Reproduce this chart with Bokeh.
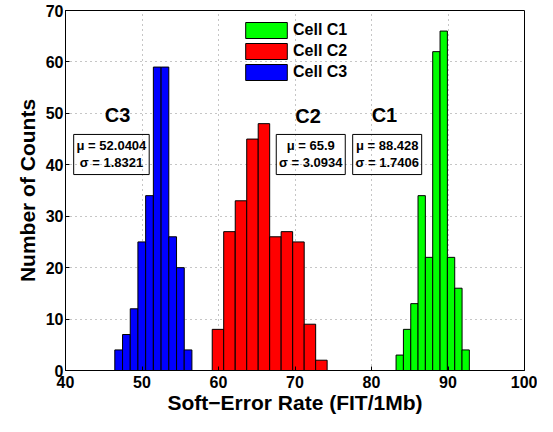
from bokeh.plotting import figure
from bokeh.models import (Range1d, FixedTicker, Legend, LegendItem,
                          Label, BoxAnnotation, ColumnDataSource)
from bokeh.embed import file_html
from bokeh.resources import INLINE

# ---- data ----
c1_centers = [83.69, 84.65, 85.61, 86.56, 87.52, 88.48, 89.44, 90.40, 91.36, 92.31]
c1_counts = [3, 8, 13, 34, 22, 62, 66, 22, 16, 4]
c1_width = 0.958

c2_centers = [59.93, 61.43, 62.94, 64.44, 65.94, 67.44, 68.94, 70.45, 71.95, 73.45]
c2_counts = [8, 27, 33, 45, 48, 26, 27, 25, 9, 2]
c2_width = 1.502

c3_centers = [46.95, 47.96, 48.97, 49.97, 50.98, 51.99, 53.00, 54.01, 55.02, 56.02]
c3_counts = [4, 7, 12, 25, 34, 59, 59, 26, 20, 4]
c3_width = 1.008

series_names = ["Cell C1", "Cell C2", "Cell C3"]
cell_tags = ["C1", "C2", "C3"]
means = ["88.428", "65.9", "52.0404"]
sigmas = ["1.7406", "3.0934", "1.8321"]

x_ticks = [40, 50, 60, 70, 80, 90, 100]
y_ticks = [0, 10, 20, 30, 40, 50, 60, 70]

FONT = "Liberation Sans"

p = figure(width=537, height=416, output_backend="svg",
           toolbar_location=None, x_range=Range1d(40, 100), y_range=Range1d(0, 70),
           min_border_left=65, min_border_right=13, min_border_top=10, min_border_bottom=0,
           background_fill_color="white", border_fill_color="white")
p.outline_line_color = "black"
p.outline_line_width = 1

# axes styling
for ax, ticks in ((p.xaxis[0], x_ticks), (p.yaxis[0], y_ticks)):
    ax.ticker = FixedTicker(ticks=ticks)
    ax.major_tick_in = 4
    ax.major_tick_out = 0
    ax.minor_tick_line_color = None
    ax.axis_line_color = "black"
    ax.major_tick_line_color = "black"
    ax.major_label_text_font = FONT
    ax.major_label_text_font_style = "bold"
    ax.major_label_text_font_size = "16px"
    ax.major_label_text_color = "black"
    ax.axis_label_text_font = FONT
    ax.axis_label_text_font_style = "bold"
    ax.axis_label_text_font_size = "21px"
    ax.axis_label_text_color = "black"

p.xaxis.axis_label = "Soft\u2212Error Rate (FIT/1Mb)"
p.yaxis.axis_label = "Number of Counts"
p.xaxis.major_label_standoff = 5
p.yaxis.major_label_standoff = 2
p.xaxis.axis_label_standoff = 0
p.yaxis.axis_label_standoff = 4

# grid
p.xgrid.ticker = FixedTicker(ticks=x_ticks)
p.ygrid.ticker = FixedTicker(ticks=y_ticks)
for g in (p.xgrid, p.ygrid):
    g.grid_line_color = "#8c8c8c"
    g.grid_line_dash = "1 4"
    g.grid_line_width = 1

# bars
colors = ["#00ff00", "#ff0000", "#0000ff"]
renderers = []
for centers, counts, w, c in ((c1_centers, c1_counts, c1_width, colors[0]),
                              (c2_centers, c2_counts, c2_width, colors[1]),
                              (c3_centers, c3_counts, c3_width, colors[2])):
    src = ColumnDataSource(dict(x=centers, top=counts))
    r = p.vbar(x="x", top="top", width=w, bottom=0, source=src,
               fill_color=c, line_color="black", line_width=1)
    renderers.append(r)

legend = Legend(items=[LegendItem(label=n, renderers=[r]) for n, r in zip(series_names, renderers)],
                location=(175, 288), orientation="vertical",
                glyph_width=52, glyph_height=20, label_height=20, spacing=1,
                label_standoff=1, padding=0, margin=0,
                border_line_color=None, background_fill_alpha=0,
                label_text_font=FONT, label_text_font_style="bold",
                label_text_font_size="16px", label_text_color="black")
p.add_layout(legend)

# annotations: tag labels and stat boxes
tag_pos = [(81.69, 49.7), (71.72, 49.5), (46.8, 49.7)]
box_pos = [(77.54, 86.56), (67.55, 76.57), (41.07, 50.94)]
for tag, (tx, ty), (bl, br), mu, sg in zip(cell_tags, tag_pos, box_pos, means, sigmas):
    p.add_layout(Label(x=tx, y=ty, text=tag, text_font=FONT, text_font_style="bold",
                       text_font_size="20px", text_align="center", text_baseline="middle",
                       text_color="black"))
    p.add_layout(BoxAnnotation(left=bl, right=br, bottom=38.1, top=45.9,
                               fill_alpha=0, line_color="black", line_width=1,
                               line_alpha=1))
    cx = (bl + br) / 2
    p.add_layout(Label(x=cx, y=43.7, text="\u03bc = " + mu, text_font=FONT,
                       text_font_style="bold", text_font_size="13px", text_align="center",
                       text_baseline="middle", text_color="black"))
    p.add_layout(Label(x=cx, y=40.4, text="\u03c3 = " + sg, text_font=FONT,
                       text_font_style="bold", text_font_size="13px", text_align="center",
                       text_baseline="middle", text_color="black"))

open("out.html", "w").write(file_html(p, INLINE))
